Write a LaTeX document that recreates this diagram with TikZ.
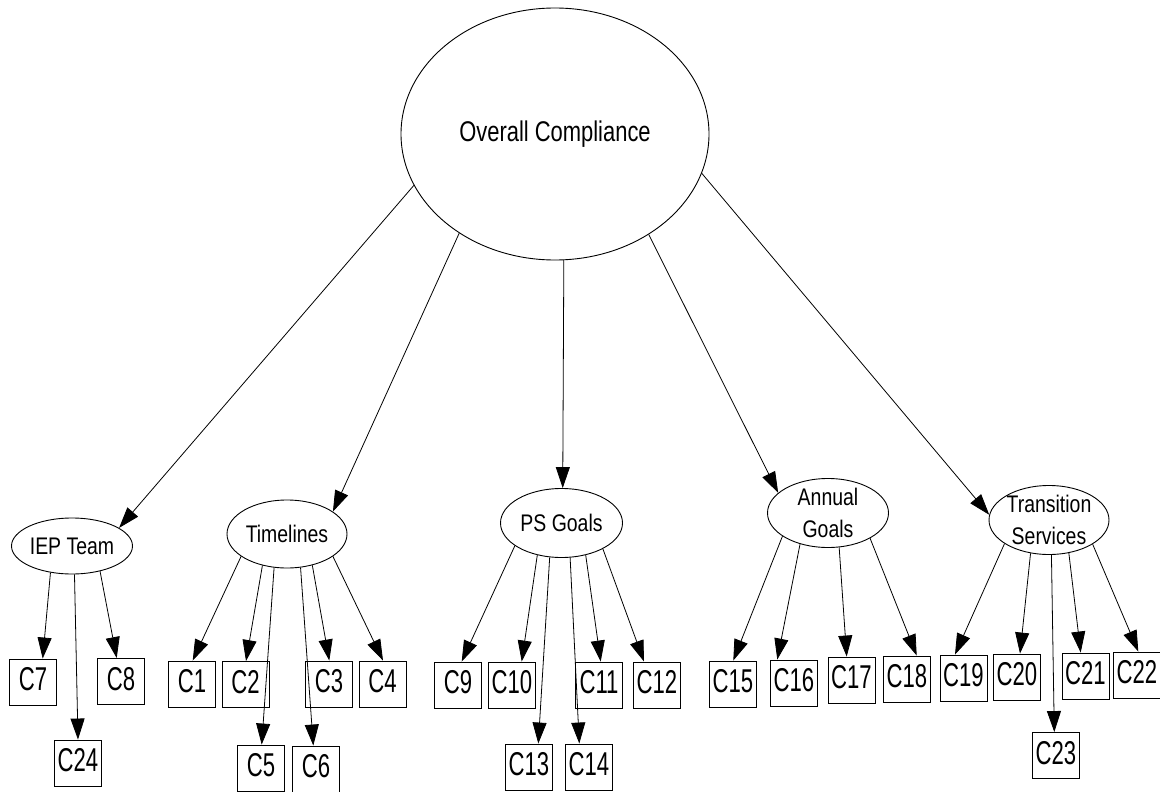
\documentclass[tikz,border=0pt]{standalone}
\usepackage{fontspec}
\setmainfont{Liberation Sans}
\newfontfamily\elfont[FakeStretch=0.81]{Liberation Sans}
\newfontfamily\topfont[FakeStretch=0.77]{Liberation Sans}
\newfontfamily\boxfont[FakeStretch=0.67]{Liberation Sans}
\usetikzlibrary{shapes.geometric,arrows.meta}
\begin{document}
\begin{tikzpicture}[x=1pt,y=-1pt,
  ell/.style={draw, ellipse, inner xsep=-10pt, inner ysep=-15pt, line width=0.9pt,
    font=\elfont\fontsize{24}{32}\selectfont, align=center},
  cbox/.style={draw, rectangle, inner sep=0pt, minimum width=47pt, minimum height=46pt,
    line width=0.9pt, font=\boxfont\fontsize{33}{33}\selectfont, text depth=6pt},
  link/.style={line width=0.8pt, -{Triangle[length=21pt,width=14pt]}},
]
\useasboundingbox (0,0) rectangle (1160,792);
\fill[white] (0,0) rectangle (1160,792);

% ellipses
\node[ell, font=\topfont\fontsize{28.5}{34}\selectfont, minimum width=308pt, minimum height=252pt] (top) at (555,134) {Overall Compliance};
\node[ell, minimum width=121pt, minimum height=56pt] (iep) at (72,546) {IEP Team};
\node[ell, minimum width=120pt, minimum height=68pt] (tl) at (287,534) {Timelines};
\node[ell, minimum width=122pt, minimum height=69pt] (ps) at (561.5,523) {PS Goals};
\node[ell, minimum width=121pt, minimum height=69pt] (ag) at (828,513) {Annual\\Goals};
\node[ell, minimum width=120pt, minimum height=69pt] (ts) at (1049,520) {Transition\\Services};

% boxes
\node[cbox] (c7) at (33,682) {C7};
\node[cbox] (c8) at (121,681.5) {C8};
\node[cbox] (c24) at (78,763) {C24};
\node[cbox] (c1) at (192,684) {C1};
\node[cbox] (c2) at (245.5,684.5) {C2};
\node[cbox] (c3) at (329,684) {C3};
\node[cbox] (c4) at (382.5,684) {C4};
\node[cbox] (c5) at (261,768) {C5};
\node[cbox] (c6) at (316,769) {C6};
\node[cbox] (c9) at (458,685) {C9};
\node[cbox] (c10) at (512,685) {C10};
\node[cbox] (c11) at (599,685) {C11};
\node[cbox] (c12) at (657,685) {C12};
\node[cbox] (c13) at (529,767) {C13};
\node[cbox] (c14) at (589,767) {C14};
\node[cbox] (c15) at (733,684) {C15};
\node[cbox] (c16) at (794,683) {C16};
\node[cbox] (c17) at (851.5,680) {C17};
\node[cbox] (c18) at (907,679) {C18};
\node[cbox] (c19) at (963.5,678) {C19};
\node[cbox] (c20) at (1017,677) {C20};
\node[cbox] (c21) at (1085.5,676) {C21};
\node[cbox] (c22) at (1137,675) {C22};
\node[cbox] (c23) at (1056,755.5) {C23};

% top-level edges
\draw[link] (top.200) -- (iep.21);
\draw[link] (top.226) -- (tl.26);
\draw[link] (top.274) -- (ps.88);
\draw[link] (top.313) -- (ag.158);
\draw[link] (top.345.6) -- (ts.175);

% IEP Team
\draw[link] (iep.231) -- ([xshift=9.7pt]c7.north);
\draw[link] (iep.275) -- (c24.north);
\draw[link] (iep.318) -- ([xshift=-4.3pt]c8.north);
% Timelines
\draw[link] (tl.206) -- ([xshift=0.7pt]c1.north);
\draw[link] (tl.232) -- ([xshift=0.5pt]c2.north);
\draw[link] (tl.249.5) -- ([xshift=0.7pt]c5.north);
\draw[link] (tl.292) -- ([xshift=-2.7pt]c6.north);
\draw[link] (tl.309) -- ([xshift=0.3pt]c3.north);
\draw[link] (tl.334) -- ([xshift=0.5pt]c4.north);
% PS Goals
\draw[link] (ps.206) -- ([xshift=3.7pt]c9.north);
\draw[link] (ps.233) -- ([xshift=9.7pt]c10.north);
\draw[link] (ps.251.6) -- ([xshift=9.3pt]c13.north);
\draw[link] (ps.284) -- ([xshift=-9.7pt]c14.north);
\draw[link] (ps.307) -- ([xshift=1.7pt]c11.north);
\draw[link] (ps.328.6) -- ([xshift=-13pt]c12.north);
% Annual Goals
\draw[link] (ag.207) -- ([xshift=0.3pt]c15.north);
\draw[link] (ag.228) -- ([xshift=-16.7pt]c16.north);
\draw[link] (ag.288) -- ([xshift=-4.8pt]c17.north);
\draw[link] (ag.329) -- ([xshift=9.7pt]c18.north);
% Transition Services
\draw[link] (ts.208.5) -- ([xshift=-8.5pt]c19.north);
\draw[link] (ts.241.6) -- ([xshift=3pt]c20.north);
\draw[link] (ts.274) -- ([xshift=-1.7pt]c23.north);
\draw[link] (ts.301) -- ([xshift=-4.8pt]c21.north);
\draw[link] (ts.331) -- ([xshift=1.3pt]c22.north);
\end{tikzpicture}
\end{document}
